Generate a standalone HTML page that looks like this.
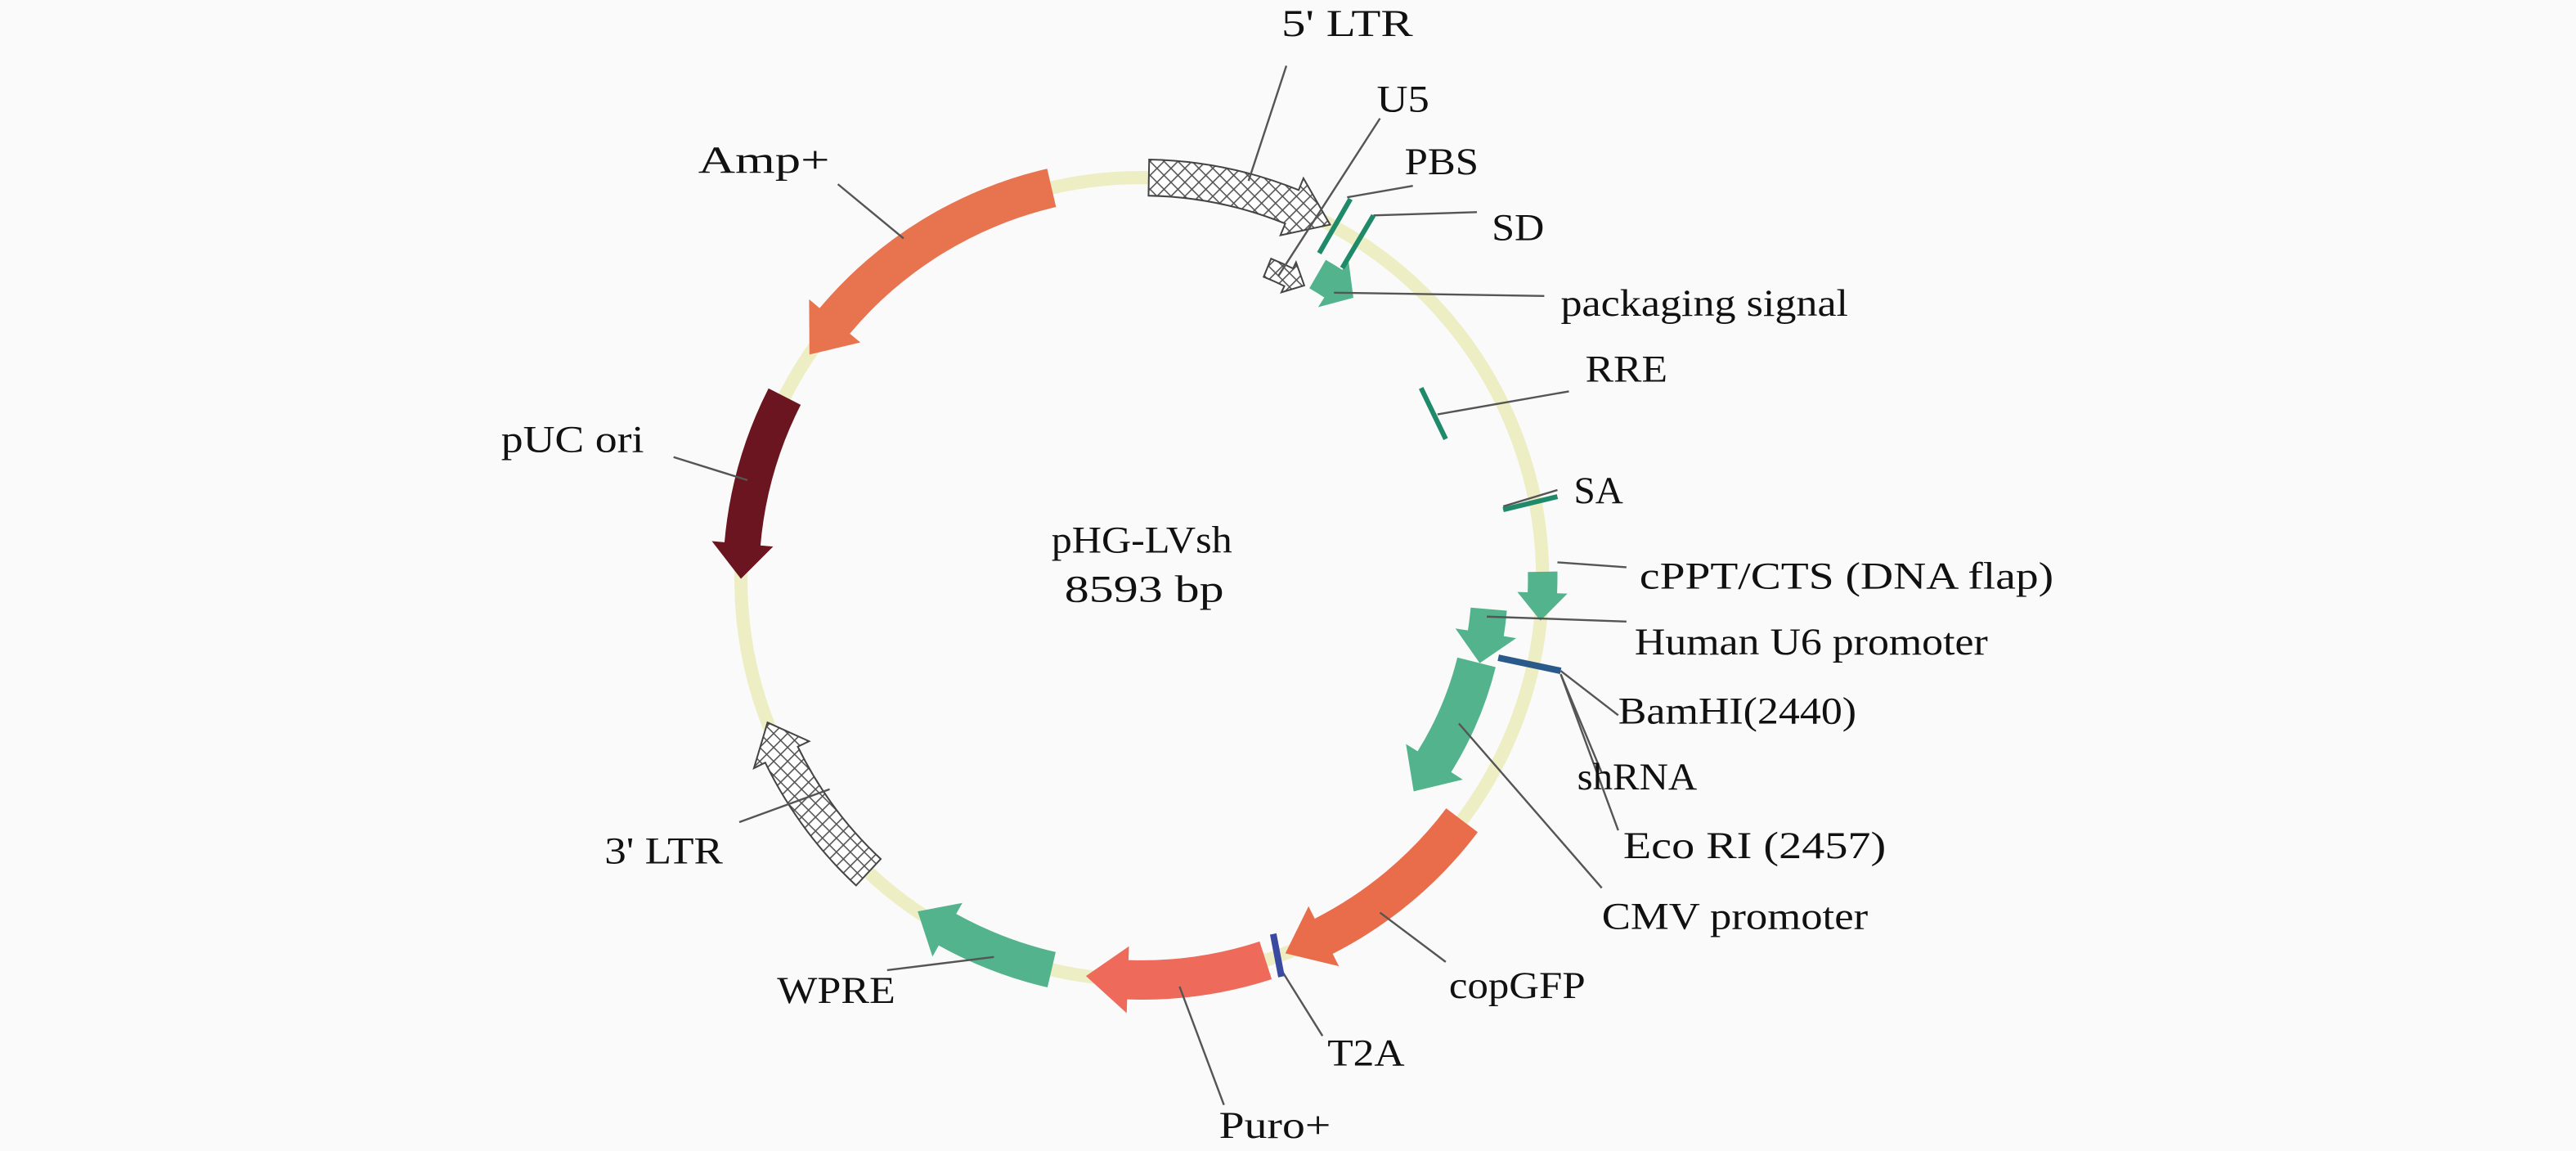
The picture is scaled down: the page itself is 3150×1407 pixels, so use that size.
<!DOCTYPE html>
<html><head><meta charset="utf-8"><style>
html,body{margin:0;padding:0;background:#fafafa;}
svg{display:block;}
text{font-family:"Liberation Serif",serif;font-size:23px;fill:#111;}
</style></head><body>
<svg id="s" width="3150" height="1407" viewBox="0 0 1568 700" preserveAspectRatio="none" xmlns="http://www.w3.org/2000/svg">
<defs>
<pattern id="h" width="6" height="6" patternUnits="userSpaceOnUse" patternTransform="rotate(45)">
<rect width="6" height="6" fill="#fff"/>
<path d="M0 0H6M0 0V6" stroke="#555" stroke-width="1.6"/>
</pattern>
</defs>
<rect width="1568" height="700" fill="#fafafa"/>
<circle cx="695" cy="352" r="244" fill="none" stroke="#eeeec4" stroke-width="8"/>
<g id="feat"></g>
<g stroke="#555" stroke-width="1.2" fill="none">
<path d="M783 40L760 110"/>
<path d="M840 72L778 168"/>
<path d="M860 113L820 120"/>
<path d="M899 129L836 131"/>
<path d="M940 180L812 178"/>
<path d="M955 238L875 252"/>
<path d="M948 298L915 308"/>
<path d="M990 345L948 342"/>
<path d="M990 378L905 375"/>
<path d="M985 435L950 408"/>
<path d="M975 470L950 410"/>
<path d="M985 505L950 410"/>
<path d="M975 540L888 440"/>
<path d="M880 585L840 555"/>
<path d="M805 630L780 590"/>
<path d="M745 672L718 600"/>
<path d="M540 590L605 582"/>
<path d="M450 500L505 480"/>
<path d="M410 278L455 292"/>
<path d="M510 112L550 145"/>
</g>
<g stroke="#1f8a6a" stroke-width="3">
<path d="M822 121L803 154"/>
<path d="M836 131L817 163"/>
<path d="M865 236L880 267"/>
<path d="M915 310L948 302"/>
</g>
<path d="M912 400L950 408" stroke="#2a5a8a" stroke-width="4"/>
<path d="M775 568L780 594" stroke="#3a4aa0" stroke-width="4"/>
<g lengthAdjust="spacingAndGlyphs">
<text x="640" y="336" textLength="110" lengthAdjust="spacingAndGlyphs">pHG-LVsh</text>
<text x="648" y="366" textLength="97" lengthAdjust="spacingAndGlyphs">8593 bp</text>
<text x="780" y="22" textLength="80" lengthAdjust="spacingAndGlyphs">5' LTR</text>
<text x="838" y="68" textLength="32" lengthAdjust="spacingAndGlyphs">U5</text>
<text x="855" y="106" textLength="45" lengthAdjust="spacingAndGlyphs">PBS</text>
<text x="908" y="146" textLength="32" lengthAdjust="spacingAndGlyphs">SD</text>
<text x="950" y="192" textLength="175" lengthAdjust="spacingAndGlyphs">packaging signal</text>
<text x="965" y="232" textLength="50" lengthAdjust="spacingAndGlyphs">RRE</text>
<text x="958" y="306" textLength="30" lengthAdjust="spacingAndGlyphs">SA</text>
<text x="998" y="358" textLength="252" lengthAdjust="spacingAndGlyphs">cPPT/CTS (DNA flap)</text>
<text x="995" y="398" textLength="215" lengthAdjust="spacingAndGlyphs">Human U6 promoter</text>
<text x="985" y="440" textLength="145" lengthAdjust="spacingAndGlyphs">BamHI(2440)</text>
<text x="960" y="480" textLength="73" lengthAdjust="spacingAndGlyphs">shRNA</text>
<text x="988" y="522" textLength="160" lengthAdjust="spacingAndGlyphs">Eco RI (2457)</text>
<text x="975" y="565" textLength="162" lengthAdjust="spacingAndGlyphs">CMV promoter</text>
<text x="882" y="607" textLength="83" lengthAdjust="spacingAndGlyphs">copGFP</text>
<text x="808" y="648" textLength="47" lengthAdjust="spacingAndGlyphs">T2A</text>
<text x="742" y="692" textLength="68" lengthAdjust="spacingAndGlyphs">Puro+</text>
<text x="473" y="610" textLength="72" lengthAdjust="spacingAndGlyphs">WPRE</text>
<text x="368" y="525" textLength="72" lengthAdjust="spacingAndGlyphs">3' LTR</text>
<text x="305" y="275" textLength="87" lengthAdjust="spacingAndGlyphs">pUC ori</text>
<text x="425" y="105" textLength="80" lengthAdjust="spacingAndGlyphs">Amp+</text>
</g>
</svg>
<script>
var cx=695,cy=352;
function P(a,r){a=a*Math.PI/180;return [(cx+r*Math.sin(a)).toFixed(1),(cy-r*Math.cos(a)).toFixed(1)];}
function arrow(s,e,r,w,hl,fill,stroke){
 var d=e>s?1:-1, h=e-d*hl, ro=r+w/2, ri=r-w/2, hw=w*0.35;
 var sw=d>0?1:0, sw2=d>0?0:1;
 var a=P(s,ro),b=P(h,ro),c=P(h,ro+hw),t=P(e,r),f=P(h,ri-hw),g=P(h,ri),k=P(s,ri);
 var p="M"+a+" A"+ro+" "+ro+" 0 0 "+sw+" "+b+" L"+c+" L"+t+" L"+f+" L"+g+" A"+ri+" "+ri+" 0 0 "+sw2+" "+k+" Z";
 return '<path d="'+p+'" fill="'+fill+'" stroke="'+(stroke||'none')+'" stroke-width="1"/>';
}
var g="";
g+=arrow(1,28,244,22,6,"url(#h)","#444");
g+=arrow(22,29,204,12,3,"url(#h)","#444");
g+=arrow(347,304,244,24,6,"#e8744f");
g+=arrow(297,270,244,22,5,"#6b1520");
g+=arrow(223,249,244,22,5,"url(#h)","#444");
g+=arrow(193,214,244,22,5,"#52b38c");
g+=arrow(162,188,244,24,6,"#ee6a5a");
g+=arrow(127,159,244,24,6,"#e96d4b");
g+=arrow(104,128,210,24,6,"#52b38c");
g+=arrow(95,104,212,22,5,"#52b38c");
g+=arrow(89,96,244,18,4,"#52b38c");
g+=arrow(30,37,214,20,4,"#52b38c");
document.getElementById("feat").innerHTML=g;
</script>
</body></html>
